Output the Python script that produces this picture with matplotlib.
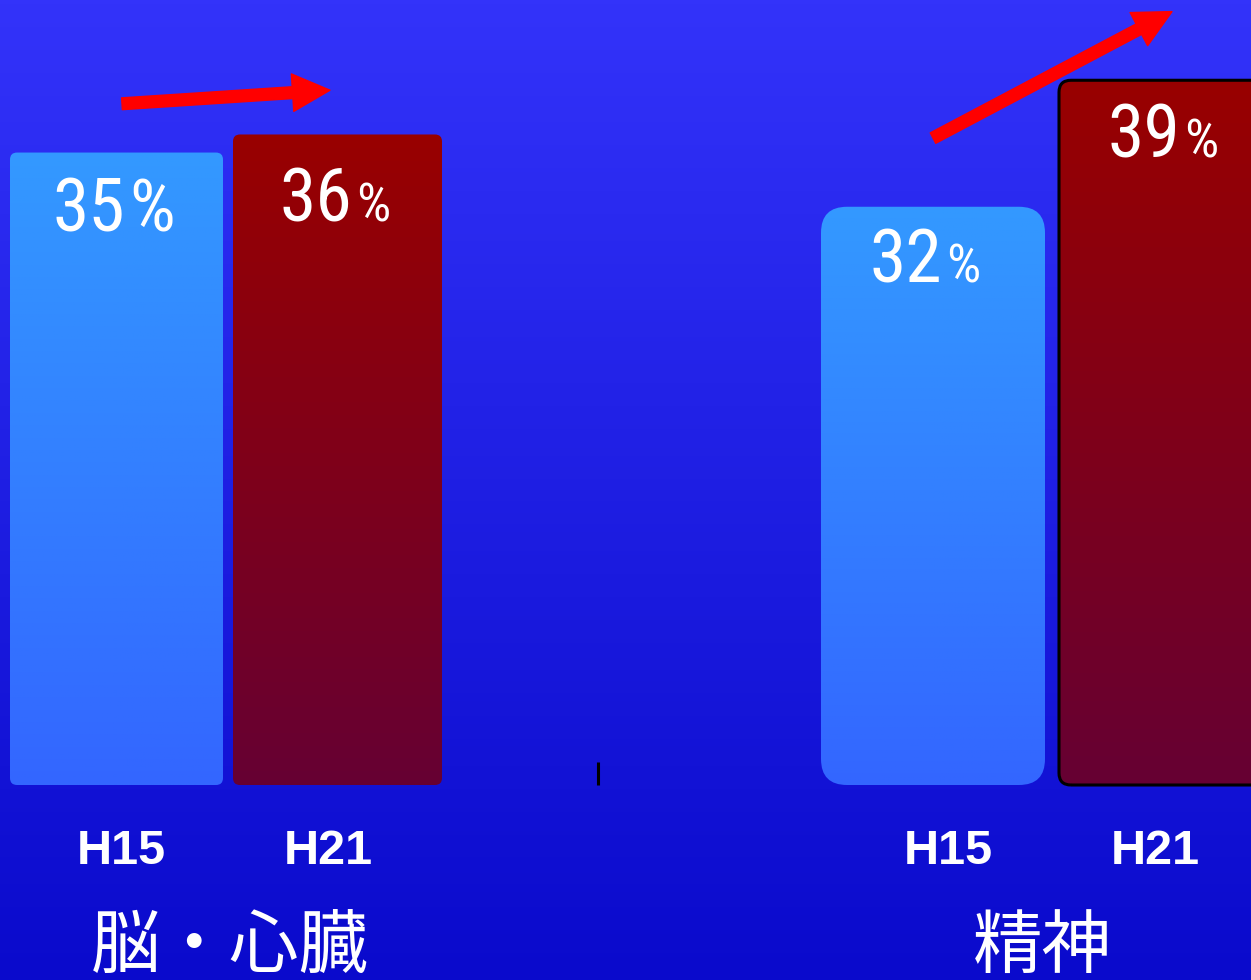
import numpy as np
import matplotlib
matplotlib.use('Agg')
from matplotlib import pyplot as plt
from matplotlib.patches import FancyBboxPatch, FancyArrowPatch
from matplotlib.colors import LinearSegmentedColormap

# dati
values = [35, 36, 32, 39]
years = ['H15', 'H21', 'H15', 'H21']
groups = ['脳・心臓', '精神']

# layout (x in pixel, y in %)
PX = 18.07                      # pixel per punto percentuale
bar_left = [10, 233, 821, 1059]
bar_width = [213, 209, 224, 210]
bar_round = [7, 7, 26, 12]
bar_edge = ['none', 'none', 'none', 'black']
bar_top_col = ['#3399FF', '#990000', '#3399FF', '#990000']
bar_bot_col = ['#3366FF', '#660033', '#3366FF', '#660033']
lab_x = [127, 354, 944, 1182]
lab_dy = [-79, -87, -76, -77]
pct_size = [52, 39, 39, 39]
year_x = [121, 328, 948, 1155]
group_x = [230, 1042]

ymin, ymax = -195 / PX, 785 / PX
grad = np.linspace(0, 1, 256).reshape(-1, 1)

fig = plt.figure(figsize=(12.51, 9.8), dpi=100)
ax = fig.add_axes([0, 0, 1, 1])
ax.axis('off')

# sfondo sfumato
bg = LinearSegmentedColormap.from_list('bg', ['#3333FA', '#0A0ACC'])
ax.imshow(grad, extent=[0, 1251, ymin, ymax], aspect='auto', cmap=bg, zorder=0)

num_font = ['Roboto Condensed', 'DejaVu Sans']
for i, v in enumerate(values):
    x0, w = bar_left[i], bar_width[i]
    box = FancyBboxPatch((x0, 0), w, v,
                         boxstyle='round,pad=0,rounding_size=%d' % bar_round[i],
                         mutation_aspect=1 / PX, facecolor='none',
                         edgecolor=bar_edge[i], linewidth=2.2, zorder=3)
    ax.add_patch(box)
    cm = LinearSegmentedColormap.from_list('b%d' % i, [bar_top_col[i], bar_bot_col[i]])
    im = ax.imshow(grad, extent=[x0, x0 + w, 0, v], aspect='auto', cmap=cm, zorder=2)
    im.set_clip_path(box)
    # etichette percentuali
    ax.annotate('%d' % v, xy=(lab_x[i], v), xytext=(-2, lab_dy[i]),
                textcoords='offset pixels', ha='right', va='baseline',
                fontsize=53, fontstretch='condensed', color='white',
                family=num_font, zorder=5)
    ax.annotate('%', xy=(lab_x[i], v), xytext=(2, lab_dy[i]),
                textcoords='offset pixels', ha='left', va='baseline',
                fontsize=pct_size[i], fontstretch='condensed', color='white',
                family=num_font, zorder=5)
    ax.text(year_x[i], -66 / PX, years[i], ha='center', va='center',
            fontsize=35, fontweight='bold', color='white',
            family=['Liberation Sans', 'DejaVu Sans'])

for gx, g in zip(group_x, groups):
    ax.text(gx, -182 / PX, g, ha='center', va='baseline', fontsize=50,
            color='white', family=['Noto Sans CJK JP', 'DejaVu Sans'])

# frecce rosse
arrows = [((122, 37.7), (330, 38.45)), ((933, 35.8), (1172, 42.8))]
for tail, head in arrows:
    ax.add_patch(FancyArrowPatch(tail, head, shrinkA=0, shrinkB=0,
                                 arrowstyle='simple,head_length=27,head_width=27,tail_width=8.5',
                                 mutation_scale=1, color='#FF0000', zorder=6))

# piccolo tick nero
ax.vlines(597.5, 0, 23 / PX, color='black', linewidth=2.2, zorder=4)

ax.set_xlim(0, 1251)
ax.set_ylim(ymin, ymax)
fig.savefig('out.png', dpi=100)
